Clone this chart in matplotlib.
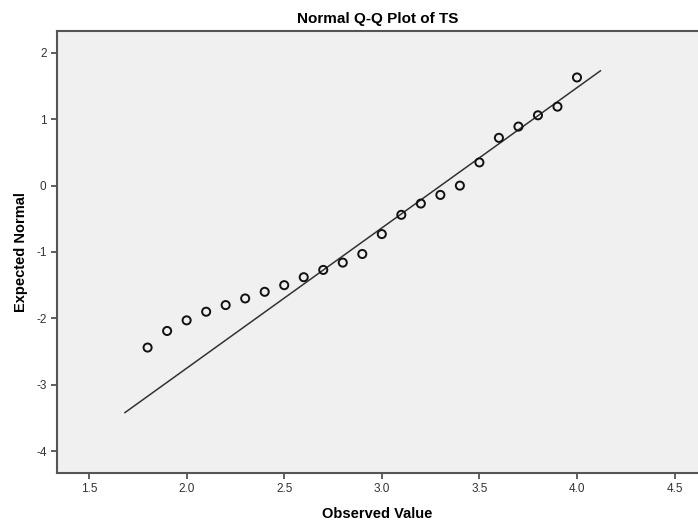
import matplotlib.pyplot as plt

# Q-Q data: observed values and expected normal scores
observed = [1.8, 1.9, 2.0, 2.1, 2.2, 2.3, 2.4, 2.5, 2.6, 2.7, 2.8, 2.9,
            3.0, 3.1, 3.2, 3.3, 3.4, 3.5, 3.6, 3.7, 3.8, 3.9, 4.0]
expected = [-2.44, -2.19, -2.03, -1.90, -1.80, -1.70, -1.60, -1.50, -1.38, -1.27, -1.16, -1.03,
            -0.73, -0.44, -0.27, -0.14, 0.00, 0.35, 0.72, 0.89, 1.06, 1.19, 1.63]

# reference line endpoints
line_x = [1.684, 4.12]
line_y = [-3.42, 1.73]

x_ticks = [1.5, 2.0, 2.5, 3.0, 3.5, 4.0, 4.5]
y_ticks = [-4, -3, -2, -1, 0, 1, 2]

plt.rcParams['font.family'] = ['Liberation Sans', 'DejaVu Sans']
plt.rcParams['axes.unicode_minus'] = False

fig = plt.figure(figsize=(6.98, 5.22), dpi=100)
ax = fig.add_axes([0.0817, 0.0939, 0.9183, 0.8467])
ax.set_facecolor('#f0f0f0')

ax.plot(line_x, line_y, color='#333333', lw=1.1)
ax.scatter(observed, expected, s=34, facecolors='none', edgecolors='#111111', linewidths=1.4, zorder=3)

ax.set_xlim(1.336, 4.62)
ax.set_ylim(-4.33, 2.33)
ax.set_xticks(x_ticks)
ax.set_xticklabels([f'{t:.1f}' for t in x_ticks])
ax.set_yticks(y_ticks)

for s in ['left', 'bottom', 'top']:
    ax.spines[s].set_color('#555555')
    ax.spines[s].set_linewidth(1.5)
ax.spines['right'].set_visible(False)
ax.tick_params(direction='out', length=4, width=1.2, color='#444444', labelsize=8.5, labelcolor='#333333')

ax.set_title('Normal Q-Q Plot of TS', fontsize=11, fontweight='bold', pad=6)
ax.set_xlabel('Observed Value', fontsize=10.5, fontweight='bold', labelpad=8)
ax.set_ylabel('Expected Normal', fontsize=10.5, fontweight='bold', labelpad=6)

fig.savefig('out.png', dpi=100)
